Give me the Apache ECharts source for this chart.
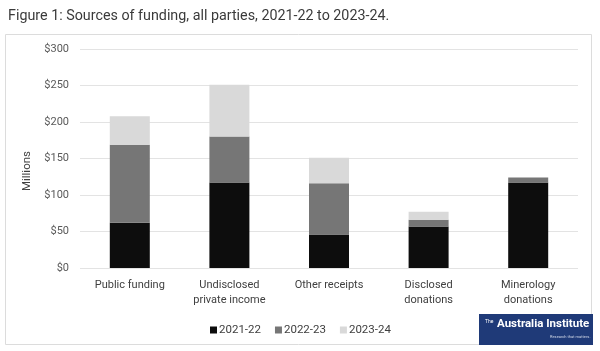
<!DOCTYPE html>
<html>
<head>
<meta charset="utf-8">
<script src="https://cdn.jsdelivr.net/npm/echarts@6/dist/echarts.min.js"></script>
<style>
  html, body { margin: 0; padding: 0; background: #fff; }
  #chart { width: 600px; height: 351px; }
</style>
</head>
<body>
<div id="chart"></div>
<script>
  // data (millions)
  var categories = ['Public funding', 'Undisclosed\nprivate income', 'Other receipts', 'Disclosed\ndonations', 'Minerology\ndonations'];
  var years = ['2021-22', '2022-23', '2023-24'];
  var fy2122 = [62, 117, 46, 57, 117];
  var fy2223 = [107, 63, 70, 9, 7];
  var fy2324 = [39, 71, 35, 11, 0];
  var yTicks = [0, 50, 100, 150, 200, 250, 300];

  var colors = ['#0d0d0d', '#767676', '#d9d9d9'];
  var font = 'Roboto, "Noto Sans", sans-serif';

  var myChart = echarts.init(document.getElementById('chart'));

  function bar(name, data, i) {
    return {
      name: name,
      type: 'bar',
      stack: 'total',
      barWidth: 40,
      itemStyle: { color: colors[i] },
      data: data
    };
  }

  var option = {
    backgroundColor: '#ffffff',
    animation: false,
    textStyle: { fontFamily: font },
    title: {
      text: 'Figure 1: Sources of funding, all parties, 2021-22 to 2023-24.',
      left: 3, top: 4,
      textStyle: { fontFamily: font, fontSize: 14.3, fontWeight: 'normal', color: '#3a3a3a' }
    },
    legend: {
      data: years,
      left: 205, top: 319,
      icon: 'rect',
      itemWidth: 7, itemHeight: 7,
      itemGap: 14,
      textStyle: { fontFamily: font, fontSize: 11.5, color: '#404040', padding: [0, 0, 0, -3] }
    },
    grid: { left: 80, right: 22, top: 49, height: 219 },
    xAxis: {
      type: 'category',
      data: categories,
      axisLine: { show: false },
      axisTick: { show: false },
      axisLabel: { margin: 10, fontSize: 11, lineHeight: 15, color: '#404040', fontFamily: font }
    },
    yAxis: {
      type: 'value',
      min: yTicks[0], max: yTicks[yTicks.length - 1], interval: 50,
      axisLine: { show: false },
      axisTick: { show: false },
      axisLabel: { margin: 11, fontSize: 11, color: '#595959', fontFamily: font, formatter: '${value}' },
      splitLine: { lineStyle: { color: '#e3e3e3', width: 1 } }
    },
    graphic: [
      // outer frame
      { type: 'rect', z: -1, shape: { x: 5.5, y: 34.5, width: 586, height: 310 },
        style: { fill: 'none', stroke: '#dcdcdc', lineWidth: 1 } },
      { type: 'text', left: 21, top: 151, rotation: Math.PI / 2,
        style: { text: 'Millions', fontSize: 11.5, fill: '#404040', fontFamily: font } },
      // logo
      { type: 'rect', shape: { x: 479, y: 314, width: 114, height: 31 }, style: { fill: '#1f3a78' } },
      { type: 'text', x: 485, y: 319, style: { text: 'The', fontSize: 5, fill: '#fff', fontFamily: font } },
      { type: 'text', x: 497, y: 318, style: { text: 'Australia Institute', fontSize: 11.5, fontWeight: 'bold', fill: '#fff', fontFamily: font } },
      { type: 'text', x: 550, y: 335, style: { text: 'Research that matters.', fontSize: 4, fill: '#cfd6e6', fontFamily: font } }
    ],
    series: [
      bar(years[0], fy2122, 0),
      bar(years[1], fy2223, 1),
      bar(years[2], fy2324, 2)
    ]
  };
  myChart.setOption(option);
</script>
</body>
</html>
